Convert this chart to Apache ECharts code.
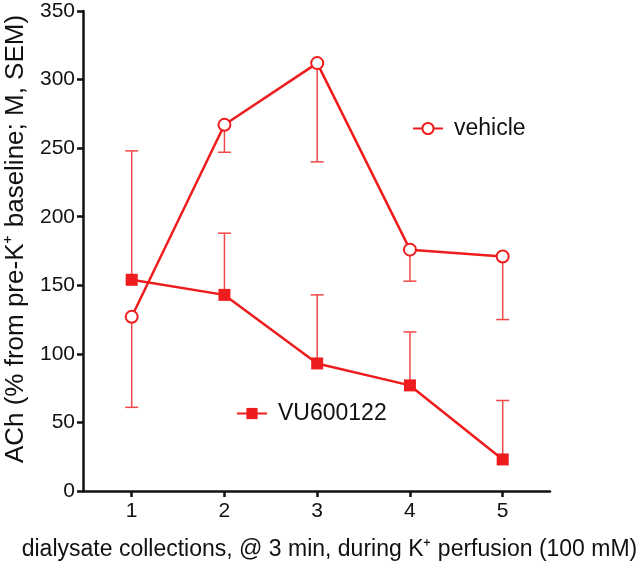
<!DOCTYPE html>
<html>
<head>
<meta charset="utf-8">
<script src="https://cdn.jsdelivr.net/npm/echarts@6/dist/echarts.min.js"></script>
<style>
html,body{margin:0;padding:0;background:#fff;}
#c{width:640px;height:562px;}
</style>
</head>
<body>
<div id="c"></div>
<script>
const collections = [1, 2, 3, 4, 5];
const vehicleMean = [127, 267, 312, 176, 171];
const vehicleLower = [61, 247, 240, 153, 125];
const vuMean = [154, 143, 93, 77, 23];
const vuUpper = [248, 188, 143, 116, 66];

const RED = '#ee1c1c';
const ERR = '#f04848';
const FONT = '"Liberation Sans", Arial, sans-serif';

const vehiclePts = collections.map((x, i) => [x, vehicleMean[i]]);
const vuPts = collections.map((x, i) => [x, vuMean[i]]);
const vehicleErr = collections.map((x, i) => [x, vehicleMean[i], vehicleLower[i]]);
const vuErr = collections.map((x, i) => [x, vuMean[i], vuUpper[i]]);

function errRender(params, api) {
  const x = api.value(0), m = api.value(1), e = api.value(2);
  const p1 = api.coord([x, m]);
  const p2 = api.coord([x, e]);
  const w = 6.5;
  return {
    type: 'group',
    children: [
      {type: 'line', shape: {x1: p1[0], y1: p1[1], x2: p2[0], y2: p2[1]}, style: {stroke: ERR, lineWidth: 1.5}},
      {type: 'line', shape: {x1: p2[0] - w, y1: p2[1], x2: p2[0] + w, y2: p2[1]}, style: {stroke: ERR, lineWidth: 1.5}}
    ]
  };
}

const chart = echarts.init(document.getElementById('c'), null, {renderer: 'canvas'});
chart.setOption({
  animation: false,
  backgroundColor: '#fff',
  textStyle: {fontFamily: FONT},
  grid: {left: 83, right: 90, top: 11, bottom: 71, containLabel: false, outerBoundsMode: 'none'},
  legend: [
    {data: ['vehicle'], left: 407, top: 112, itemWidth: 30, itemHeight: 14, itemGap: 0,
     textStyle: {fontSize: 23, color: '#111', fontFamily: FONT, padding: [0, 0, 0, 6]}},
    {data: ['VU600122'], left: 231, top: 397, itemWidth: 30, itemHeight: 14, itemGap: 0,
     textStyle: {fontSize: 23, color: '#111', fontFamily: FONT, padding: [0, 0, 0, 6]}}
  ],
  xAxis: {
    type: 'value', min: 0.475, max: 5.51,
    name: 'dialysate collections, @ 3 min, during K\u207A perfusion (100 mM)',
    nameLocation: 'middle', nameGap: 47,
    nameTextStyle: {fontSize: 23, color: '#111', fontFamily: FONT, padding: [0, 0, 0, 26]},
    axisLine: {lineStyle: {color: '#111', width: 2.5}},
    axisTick: {show: true, length: 6, lineStyle: {color: '#111', width: 2.5}, customValues: collections},
    axisLabel: {fontSize: 21, color: '#111', fontFamily: FONT, margin: 10, customValues: collections},
    splitLine: {show: false}
  },
  yAxis: {
    type: 'value', min: 0, max: 350, interval: 50,
    name: 'ACh (% from pre-K\u207A baseline; M, SEM)',
    nameLocation: 'middle', nameGap: 53,
    nameTextStyle: {fontSize: 26, color: '#111', fontFamily: FONT, padding: [0, 0, 0, 24]},
    axisLine: {show: true, lineStyle: {color: '#111', width: 2.5}},
    axisTick: {show: true, length: 6, lineStyle: {color: '#111', width: 2.5}},
    axisLabel: {fontSize: 21, color: '#111', fontFamily: FONT, margin: 8},
    splitLine: {show: false}
  },
  series: [
    {type: 'custom', name: 'vehicle-err', data: vehicleErr, renderItem: errRender, z: 1, silent: true},
    {type: 'custom', name: 'vu-err', data: vuErr, renderItem: errRender, z: 1, silent: true},
    {type: 'line', name: 'vehicle', data: vehiclePts, symbol: 'emptyCircle', symbolSize: 12,
     lineStyle: {color: RED, width: 2.5}, itemStyle: {color: RED, borderColor: RED, borderWidth: 1.5}, z: 3},
    {type: 'line', name: 'VU600122', data: vuPts, symbol: 'rect', symbolSize: 12,
     lineStyle: {color: RED, width: 2.5}, itemStyle: {color: RED}, z: 3}
  ]
});
</script>
</body>
</html>
